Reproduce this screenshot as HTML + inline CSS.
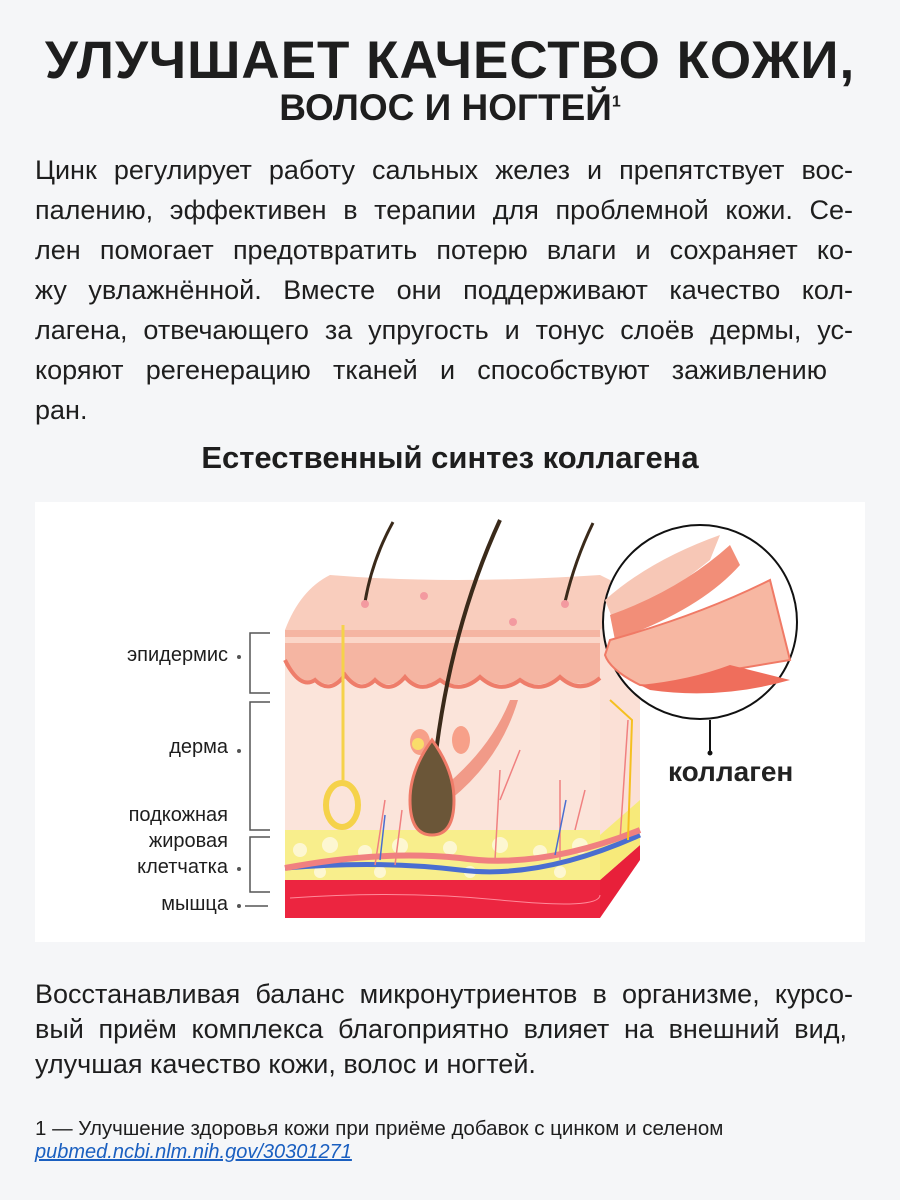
<!DOCTYPE html>
<html><head><meta charset="utf-8"><style>
body{margin:0;width:900px;height:1200px;background:#f5f6f8;font-family:"Liberation Sans",sans-serif;color:#1e1e1e;position:relative;overflow:hidden}
.a{position:absolute;white-space:nowrap}
.j{position:absolute;left:35px;width:818px;text-align:justify;text-align-last:justify;font-size:27px;white-space:nowrap}
.l{position:absolute;font-size:20px;text-align:right;width:200px;left:28px}
</style></head><body>
<div class="a" style="left:0;width:900px;text-align:center;top:30px;font-size:53px;font-weight:bold;letter-spacing:1px">УЛУЧШАЕТ КАЧЕСТВО КОЖИ,</div>
<div class="a" style="left:0;width:900px;text-align:center;top:87px;font-size:37px;font-weight:bold">ВОЛОС И НОГТЕЙ<sup style="font-size:16px">1</sup></div>

<div class="j" style="top:155px">Цинк регулирует работу сальных желез и препятствует вос-</div>
<div class="j" style="top:195px">палению, эффективен в терапии для проблемной кожи. Се-</div>
<div class="j" style="top:235px">лен помогает предотвратить потерю влаги и сохраняет ко-</div>
<div class="j" style="top:275px">жу увлажнённой. Вместе они поддерживают качество кол-</div>
<div class="j" style="top:315px">лагена, отвечающего за упругость и тонус слоёв дермы, ус-</div>
<div class="j" style="top:355px;width:792px">коряют регенерацию тканей и способствуют заживлению</div>
<div class="a" style="left:35px;top:395px;font-size:27px">ран.</div>

<div class="a" style="left:0;width:900px;text-align:center;top:440px;font-size:31px;font-weight:bold">Естественный синтез коллагена</div>

<div class="a" style="left:35px;top:502px;width:830px;height:440px;background:#fff"></div>
<svg class="a" style="left:0;top:0" width="900" height="1200">
 <path d="M600,630 L640,595 L640,860 L600,918 Z" fill="#fbe0d6"/>
 <path d="M600,880 L640,845 L640,860 L600,918 Z" fill="#e8203a"/>
 <path d="M600,835 L640,800 L640,845 L600,880 Z" fill="#f7ea7a"/>
 <path d="M285,630 Q300,590 330,575 Q450,585 600,575 L640,595 L600,630 Z" fill="#f9cdbd"/>
 <rect x="285" y="630" width="315" height="70" fill="#f5b5a2"/>
 <path d="M285,665 Q300,690 315,680 Q330,690 345,675 Q360,690 375,680 Q390,690 405,677 Q420,690 440,680 Q460,690 480,677 Q500,690 520,680 Q540,690 560,677 Q580,690 600,678 L600,700 L285,700 Z" fill="#fbe4da"/>
 <path d="M285,660 Q300,690 315,680 Q330,695 345,675 Q360,695 375,680 Q390,695 405,677 Q420,695 440,680 Q460,695 480,677 Q500,695 520,680 Q540,695 560,677 Q580,695 600,678" fill="none" stroke="#ee7d6a" stroke-width="4"/>
 <rect x="285" y="637" width="315" height="6" fill="#fbd6c8"/>
 <rect x="285" y="695" width="315" height="140" fill="#fbe4da"/>
 <rect x="285" y="830" width="315" height="50" fill="#f8ee8c"/>
 <g fill="#fdf7d2"><circle cx="300" cy="850" r="7"/><circle cx="330" cy="845" r="8"/><circle cx="365" cy="852" r="7"/><circle cx="400" cy="846" r="8"/><circle cx="450" cy="848" r="7"/><circle cx="500" cy="845" r="8"/><circle cx="540" cy="852" r="7"/><circle cx="580" cy="846" r="8"/><circle cx="320" cy="872" r="6"/><circle cx="380" cy="872" r="6"/><circle cx="470" cy="872" r="6"/><circle cx="560" cy="872" r="6"/></g>
 <path d="M285,868 Q380,860 460,870 Q540,880 640,835" fill="none" stroke="#4a6ed0" stroke-width="5"/>
 <path d="M285,868 Q380,850 460,858 Q540,870 640,830" fill="none" stroke="#f08080" stroke-width="6"/>
 <rect x="285" y="880" width="315" height="38" fill="#ec2540"/>
 <path d="M290,898 Q400,890 500,900 T600,895" fill="none" stroke="#ff8a9a" stroke-width="1"/>
 <path d="M365,602 Q372,560 393,522" stroke="#3a2a1a" stroke-width="3" fill="none"/>
 <path d="M565,602 Q575,560 593,523" stroke="#3a2a1a" stroke-width="3" fill="none"/>
 <path d="M432,790 Q445,640 500,520" stroke="#3a2a1a" stroke-width="4" fill="none"/>
 <circle cx="365" cy="604" r="4" fill="#f39aa0"/><circle cx="424" cy="596" r="4" fill="#f39aa0"/><circle cx="513" cy="622" r="4" fill="#f39aa0"/><circle cx="565" cy="604" r="4" fill="#f39aa0"/>
 <path d="M518,700 Q500,760 450,800 L440,790 Q490,750 510,700 Z" fill="#f19a88"/>
 <ellipse cx="420" cy="742" rx="10" ry="13" fill="#f7a089"/><circle cx="418" cy="744" r="6" fill="#f9dd6a"/>
 <ellipse cx="461" cy="740" rx="9" ry="14" fill="#f7a089"/>
 <path d="M432,740 Q410,770 410,800 Q410,835 432,835 Q454,835 454,800 Q454,770 432,740 Z" fill="#6b5638" stroke="#ef7b68" stroke-width="3"/>
 <path d="M343,625 L343,780" stroke="#f5d24a" stroke-width="3"/>
 <ellipse cx="342" cy="805" rx="16" ry="22" fill="none" stroke="#f5d24a" stroke-width="6"/>
 <path d="M375,865 L385,800 M395,865 L402,810 M495,860 L500,770 M500,800 L520,750 M560,860 L560,780 M575,830 L585,790 M620,840 L628,720" stroke="#f08080" stroke-width="1.5" fill="none"/>
 <path d="M380,860 L385,815 M555,855 L566,800" stroke="#4a6ed0" stroke-width="1.5" fill="none"/>
 <path d="M628,840 L632,720 L610,700" stroke="#f5c020" stroke-width="2" fill="none"/>
 <circle cx="700" cy="622" r="97" fill="#fff" stroke="#111" stroke-width="2"/>
 <path d="M605,600 Q650,560 720,535 L710,560 Q660,600 615,625 Z" fill="#f7c7b6"/>
 <path d="M610,615 Q680,590 730,545 L740,565 Q700,610 615,640 Z" fill="#f28e78"/>
 <path d="M610,640 Q700,615 770,580 L790,660 L730,670 Q680,690 640,685 Q610,670 605,655 Z" fill="#f7b7a2" stroke="#f07a66" stroke-width="2"/>
 <path d="M640,685 Q690,680 730,665 L790,680 Q720,700 650,690 Z" fill="#ef6e5c"/>
 <line x1="710" y1="720" x2="710" y2="752" stroke="#111" stroke-width="2"/><circle cx="710" cy="753" r="2.5" fill="#111"/>
 <g stroke="#555" stroke-width="1.5" fill="none">
  <path d="M270,633 H250 V693 H270"/><path d="M270,702 H250 V830 H270"/><path d="M270,837 H250 V892 H270"/>
  <line x1="245" y1="906" x2="268" y2="906"/>
 </g>
 <g fill="#555"><circle cx="239" cy="657" r="2"/><circle cx="239" cy="751" r="2"/><circle cx="239" cy="869" r="2"/><circle cx="239" cy="906" r="2"/></g>
 <text x="668" y="781" font-family="Liberation Sans" font-size="28" font-weight="bold" fill="#222">коллаген</text>
</svg>
<div class="l" style="top:644px">эпидермис</div>
<div class="l" style="top:736px">дерма</div>
<div class="l" style="top:804px">подкожная</div>
<div class="l" style="top:830px">жировая</div>
<div class="l" style="top:856px">клетчатка</div>
<div class="l" style="top:893px">мышца</div>

<div class="j" style="top:979px">Восстанавливая баланс микронутриентов в организме, курсо-</div>
<div class="j" style="top:1014px;width:812px">вый приём комплекса благоприятно влияет на внешний вид,</div>
<div class="a" style="left:35px;top:1049px;font-size:27px">улучшая качество кожи, волос и ногтей.</div>
<div class="a" style="left:35px;top:1117px;font-size:20.5px">1 — Улучшение здоровья кожи при приёме добавок с цинком и селеном</div>
<div class="a" style="left:35px;top:1141px;font-size:20px;font-style:italic;color:#1a5fc0;text-decoration:underline">pubmed.ncbi.nlm.nih.gov/30301271</div>
</body></html>
